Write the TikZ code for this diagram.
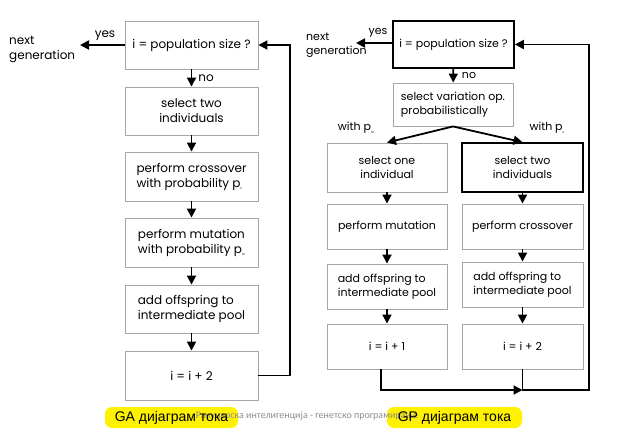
\documentclass[tikz,border=0pt]{standalone}
\usepackage{fontspec}
\setmainfont{Poppins}
\newfontfamily\labfont{Liberation Sans}
\newfontfamily\footfont{Carlito}
\usetikzlibrary{arrows.meta}
\newcommand{\subs}[1]{\raisebox{-2.5pt}{\fontsize{3}{3}\selectfont #1}}
\tikzset{
  x=1pt,y=-1pt,
  gbox/.style={draw=black!35, line width=0.9pt, inner sep=2pt, font=\fontsize{12}{15}\selectfont},
  kbox/.style={draw=black, line width=1.6pt, inner sep=2pt, font=\fontsize{11}{14}\selectfont},
  arr/.style={line width=1.8pt, -{Triangle[length=9pt,width=9pt]}},
  lbl/.style={inner sep=0pt},
  ylab/.style={rounded corners=7pt, inner sep=0pt, minimum height=21pt, font=\labfont\fontsize{14}{14}\selectfont}
}
\begin{document}
\begin{tikzpicture}
\useasboundingbox (0,0) rectangle (626,433);
% ---------- GA ----------
\node[gbox, minimum width=133pt, minimum height=48pt] (a1) at (191.5,45) {i = population size ?};
\node[gbox, minimum width=133pt, minimum height=48pt, align=center] (a2) at (191.5,111) {select two\\individuals};
\node[gbox, minimum width=133pt, minimum height=49pt, align=left] (a3) at (191.5,176.5) {perform crossover\\with probability p\subs{c}};
\node[gbox, minimum width=133pt, minimum height=49pt, align=left] (a4) at (191.5,242.5) {perform mutation\\with probability p\subs{m}};
\node[gbox, minimum width=133pt, minimum height=48pt, align=left] (a5) at (191.5,309) {add offspring to\\intermediate pool};
\node[gbox, minimum width=133pt, minimum height=49pt] (a6) at (191.5,375.5) {i = i + 2};
\node[lbl, anchor=west, align=left, font=\fontsize{12}{15}\selectfont] (ng1) at (9,50) {next\\generation};
\node[lbl, font=\fontsize{12}{12}\selectfont] (y1) at (105,36) {yes};
\node[lbl, font=\fontsize{12}{12}\selectfont] (n1) at (206,78) {no};
\coordinate (ng1t) at (80,45);
\draw[arr] (a1.west) -- (ng1t);
\draw[arr] (a1) -- (a2);
\draw[arr] (a2) -- (a3);
\draw[arr] (a3) -- (a4);
\draw[arr] (a4) -- (a5);
\draw[arr] (a5) -- (a6);
\coordinate (la) at (290,375.5);
\draw[arr] (a6.east) -- (la) |- (a1.east);
% ---------- GP ----------
\node[kbox, minimum width=121pt, minimum height=47pt] (b1) at (453.5,44.5) {i = population size ?};
\node[gbox, font=\fontsize{11}{14}\selectfont, minimum width=120pt, minimum height=43pt, align=left] (b2) at (453,104.5) {select variation op.\\probabilistically};
\node[gbox, font=\fontsize{11}{14}\selectfont, minimum width=120pt, minimum height=49pt, align=center] (b3l) at (387,167.5) {select one\\individual};
\node[kbox, minimum width=121pt, minimum height=49pt, align=center] (b3r) at (522.5,167.5) {select two\\individuals};
\node[gbox, font=\fontsize{11}{14}\selectfont, minimum width=120pt, minimum height=45pt] (b4l) at (387,226.5) {perform mutation};
\node[gbox, font=\fontsize{11}{14}\selectfont, minimum width=121pt, minimum height=45pt] (b4r) at (522.5,226.5) {perform crossover};
\node[gbox, font=\fontsize{11}{14}\selectfont, minimum width=120pt, minimum height=45pt, align=left] (b5l) at (387,286.5) {add offspring to\\intermediate pool};
\node[gbox, font=\fontsize{11}{14}\selectfont, minimum width=121pt, minimum height=45pt, align=left] (b5r) at (522.5,284.5) {add offspring to\\intermediate pool};
\node[gbox, font=\fontsize{11}{14}\selectfont, minimum width=120pt, minimum height=45pt] (b6l) at (387,346.5) {i = i + 1};
\node[gbox, font=\fontsize{11}{14}\selectfont, minimum width=121pt, minimum height=45pt] (b6r) at (522.5,346.5) {i = i + 2};
\node[lbl, anchor=west, align=left, font=\fontsize{11}{14}\selectfont] (ng2) at (306,45) {next\\generation};
\node[lbl, font=\fontsize{11}{11}\selectfont] (y2) at (378,33) {yes};
\node[lbl, font=\fontsize{11}{11}\selectfont] (n2) at (469,75) {no};
\node[lbl, font=\fontsize{11}{11}\selectfont] (wl) at (356,128) {with p\subs{m}};
\node[lbl, font=\fontsize{11}{11}\selectfont] (wr) at (547,128) {with p\subs{c}};
\coordinate (ng2t) at (356,43);
\draw[arr] (b1.west |- ng2t) -- (ng2t);
\draw[arr] (b1) -- (b2);
\draw[arr] (b2.south) -- (b3l.north);
\draw[arr] (b2.south) -- (b3r.north);
\draw[arr] (b3l) -- (b4l);
\draw[arr] (b3r) -- (b4r);
\draw[arr] (b4l) -- (b5l);
\draw[arr] (b4r) -- (b5r);
\draw[arr] (b5l) -- (b6l);
\draw[arr] (b5r) -- (b6r);
\coordinate (bl) at (381,390);
\coordinate (bj) at (522.5,390);
\coordinate (br) at (589,390);
\draw[arr] ([xshift=-6pt]b6l.south) -- (bl) -- (bj);
\draw[arr] (b6r.south) -- (bj) -- (br) |- (b1.east);
% ---------- captions ----------
\node[ylab, fill=yellow, text=yellow, minimum width=133pt] (gal) at (171.5,417.5) {GA дијаграм тока};
\node[ylab, fill=yellow, text=yellow, minimum width=135pt] (gpl) at (454.5,417.5) {GP дијаграм тока};
\node[lbl, text=black!45, font=\footfont\fontsize{10}{10}\selectfont] (ft) at (307,416) {Рачунарска интелигенција - генетско програмирање};
\node[ylab] at (gal) {GA дијаграм тока};
\node[ylab] at (gpl) {GP дијаграм тока};
\end{tikzpicture}
\end{document}
